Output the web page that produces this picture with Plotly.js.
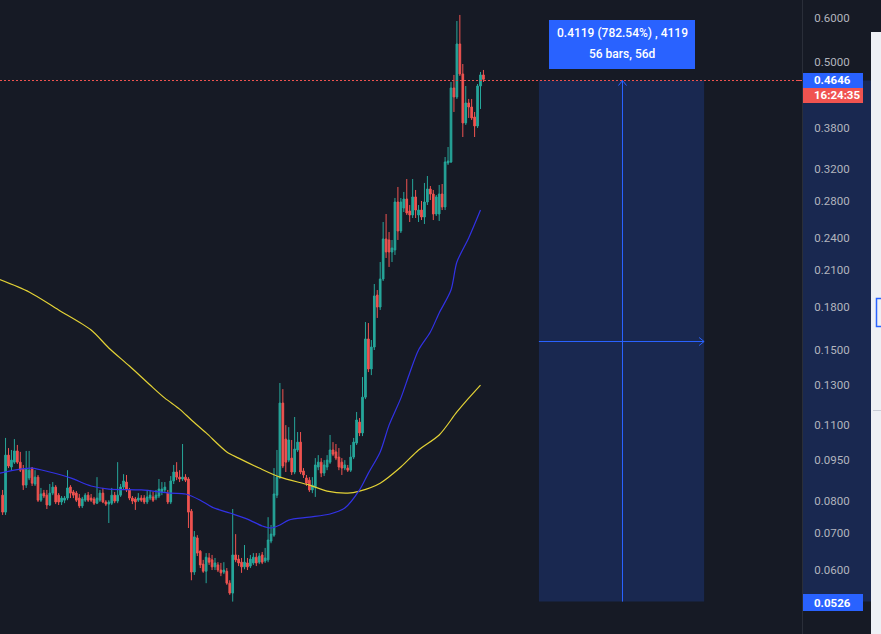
<!DOCTYPE html>
<html>
<head>
<meta charset="utf-8">
<script src="https://cdn.plot.ly/plotly-3.0.1.min.js"></script>
<style>
html,body{margin:0;padding:0;background:#161a25;overflow:hidden;}
#chart{width:881px;height:634px;}
</style>
</head>
<body>
<div id="chart"></div>
<script>
// ---- Daily OHLC values ----
const openP = [
0.0820,0.0764,0.0969,0.0922,0.0941,0.0986,0.0941,0.0914,0.0855,0.0881,
0.0918,0.0859,0.0884,0.0803,0.0827,0.0820,0.0787,0.0827,0.0848,0.0820,
0.0797,0.0803,0.0810,0.0848,0.0831,0.0827,0.0810,0.0784,0.0803,0.0820,
0.0810,0.0807,0.0793,0.0803,0.0827,0.0797,0.0790,0.0793,0.0820,0.0800,
0.0820,0.0848,0.0866,0.0838,0.0810,0.0807,0.0803,0.0810,0.0810,0.0797,
0.0810,0.0814,0.0810,0.0817,0.0831,0.0838,0.0827,0.0797,0.0870,0.0903,
0.0884,0.0877,0.0884,0.0877,0.0767,0.0595,0.0686,0.0649,0.0615,0.0597,
0.0631,0.0626,0.0608,0.0613,0.0600,0.0595,0.0597,0.0568,0.0545,
0.0639,0.0628,0.0620,0.0608,0.0618,0.0610,0.0618,0.0633,
0.0620,0.0639,0.0623,0.0626,0.0677,0.0694,0.0820,0.0884,0.1204,
0.1036,0.0949,0.0957,0.0903,0.0990,0.1023,0.0907,0.0881,0.0873,
0.0838,0.0848,0.0922,0.0941,0.0899,0.0922,0.0941,0.0990,0.0982,
0.0961,0.0941,0.0918,0.0918,0.0910,0.0961,0.1019,0.1112,0.1063,
0.1234,0.1573,0.1388,0.1521,0.1889,0.1797,0.2020,0.2387,0.2377,0.2261,
0.2280,0.2785,0.2468,0.2716,0.2820,0.2682,0.2638,0.2844,0.2638,0.2693,
0.2616,0.2785,0.2940,0.2879,0.2649,0.2649,0.2879,0.2728,0.3277,0.3291,
0.4481,0.4316,0.5383,0.4750,0.3872,0.4209,0.4139,0.3970,0.3824,0.4518,0.4731];
const highP = [
0.0838,0.1041,0.0998,0.0990,0.1036,0.1011,0.0982,0.0930,0.0986,0.0986,
0.0922,0.0910,0.0892,0.0845,0.0838,0.0838,0.0859,0.0866,0.0855,0.0827,
0.0817,0.0817,0.0910,0.0855,0.0838,0.0834,0.0824,0.0814,0.0827,0.0831,
0.0824,0.0814,0.0884,0.0838,0.0845,0.0803,0.0803,0.0845,0.0831,0.0941,
0.0859,0.0895,0.0892,0.0845,0.0817,0.0814,0.0827,0.0820,0.0820,0.0838,
0.0838,0.0831,0.0838,0.0877,0.0866,0.0866,0.0838,0.0888,0.0930,0.0941,
0.0910,0.1015,0.0895,0.0884,0.0774,0.0706,0.0694,0.0652,0.0626,0.0644,
0.0644,0.0639,0.0631,0.0620,0.0618,0.0620,0.0605,0.0575,0.0774,
0.0697,0.0639,0.0631,0.0666,0.0631,0.0639,0.0644,0.0644,
0.0644,0.0647,0.0658,0.0748,0.0724,0.0918,0.0990,0.1309,0.1276,
0.1098,0.1089,0.1032,0.1136,0.1067,0.1067,0.0918,0.0892,0.0884,
0.0884,0.0957,0.0969,0.0957,0.0949,0.0969,0.1054,0.1023,0.1015,
0.0998,0.0957,0.0949,0.0930,0.1011,0.1041,0.1160,0.1131,0.1342,
0.1688,0.1681,0.1566,0.1978,0.1929,0.2168,0.2562,0.2649,0.2457,0.2377,
0.2832,0.2965,0.2832,0.2904,0.3065,0.2750,0.3065,0.2928,0.2750,0.2797,
0.3015,0.3104,0.2977,0.2928,0.2867,0.2990,0.3002,0.3360,0.3503,0.4594,
0.4731,0.5925,0.6076,0.4952,0.4518,0.4280,0.4280,0.4054,0.4556,0.4790,0.4830];
const lowP = [
0.0755,0.0755,0.0918,0.0910,0.0934,0.0934,0.0903,0.0838,0.0845,0.0873,
0.0852,0.0852,0.0797,0.0797,0.0810,0.0774,0.0784,0.0820,0.0790,0.0787,
0.0787,0.0793,0.0803,0.0810,0.0810,0.0797,0.0777,0.0777,0.0797,0.0797,
0.0797,0.0787,0.0790,0.0797,0.0793,0.0784,0.0730,0.0787,0.0793,0.0793,
0.0814,0.0838,0.0831,0.0803,0.0790,0.0771,0.0797,0.0797,0.0790,0.0790,
0.0803,0.0797,0.0803,0.0810,0.0820,0.0827,0.0790,0.0790,0.0859,0.0873,
0.0866,0.0870,0.0866,0.0715,0.0575,0.0588,0.0636,0.0605,0.0593,0.0568,
0.0613,0.0600,0.0600,0.0595,0.0585,0.0590,0.0564,0.0541,0.0526,
0.0620,0.0610,0.0593,0.0602,0.0600,0.0605,0.0613,0.0610,
0.0615,0.0615,0.0618,0.0620,0.0671,0.0689,0.0810,0.0877,0.0918,
0.0903,0.0941,0.0892,0.0895,0.0982,0.0895,0.0881,0.0852,0.0831,
0.0827,0.0814,0.0910,0.0884,0.0888,0.0910,0.0934,0.0965,0.0949,
0.0910,0.0892,0.0910,0.0903,0.0903,0.0953,0.1011,0.1049,0.1049,
0.1224,0.1370,0.1353,0.1502,0.1717,0.1775,0.2003,0.2205,0.2124,0.2168,
0.2233,0.2377,0.2447,0.2671,0.2638,0.2562,0.2605,0.2605,0.2562,0.2583,
0.2541,0.2750,0.2808,0.2583,0.2627,0.2573,0.2693,0.2693,0.3250,0.3277,
0.4054,0.4280,0.4711,0.3652,0.3840,0.3954,0.3921,0.3652,0.3792,0.4105,0.4594];
const closeP = [
0.0764,0.0969,0.0926,0.0949,0.0986,0.0941,0.0910,0.0855,0.0914,0.0910,
0.0862,0.0884,0.0803,0.0824,0.0817,0.0787,0.0827,0.0848,0.0797,0.0797,
0.0810,0.0810,0.0845,0.0827,0.0820,0.0803,0.0784,0.0807,0.0820,0.0803,
0.0803,0.0793,0.0810,0.0827,0.0797,0.0790,0.0797,0.0820,0.0800,0.0820,
0.0848,0.0870,0.0838,0.0810,0.0800,0.0797,0.0810,0.0803,0.0797,0.0814,
0.0820,0.0803,0.0820,0.0841,0.0841,0.0848,0.0797,0.0870,0.0903,0.0884,
0.0877,0.0884,0.0873,0.0764,0.0595,0.0689,0.0644,0.0613,0.0597,0.0633,
0.0620,0.0608,0.0618,0.0600,0.0593,0.0600,0.0568,0.0545,0.0639,
0.0626,0.0618,0.0608,0.0620,0.0608,0.0628,0.0633,0.0618,
0.0636,0.0620,0.0631,0.0680,0.0697,0.0824,0.0884,0.1204,0.0926,
0.0941,0.1032,0.0903,0.0994,0.1023,0.0903,0.0892,0.0862,0.0838,
0.0855,0.0930,0.0941,0.0899,0.0930,0.0949,0.0990,0.0973,0.0957,
0.0922,0.0918,0.0930,0.0910,0.0961,0.1023,0.1122,0.1063,0.1234,
0.1573,0.1388,0.1521,0.1882,0.1797,0.2020,0.2387,0.2261,0.2261,0.2299,
0.2785,0.2468,0.2785,0.2820,0.2660,0.2638,0.2844,0.2693,0.2693,0.2616,
0.2785,0.2940,0.2879,0.2649,0.2844,0.2879,0.2728,0.3291,0.3304,0.4481,
0.4316,0.5383,0.4750,0.3872,0.4209,0.4139,0.3954,0.3824,0.4518,0.4731,0.4646];

// ---- Moving averages (bar index, value) ----
const maSlowBar = [-1,9,19,30,36,43,50,55,60,64,69,76,80,87,94,104,110,117,121,128,135,141,148,154,158,162];
const maSlowVal = [0.2015,0.1913,0.1775,0.1633,0.1515,0.1405,0.1298,0.1229,0.1174,0.1122,0.1063,0.0982,0.0957,0.0918,0.0884,0.0855,0.0834,0.0827,0.0834,0.0862,0.0922,0.0990,0.1054,0.1160,0.1229,0.1298];
const maFastBar = [-1,6,10,16,23,30,36,47,57,62,67,71,77,83,88,91,94,97,104,111,116,121,124,128,131,135,138,141,145,148,152,154,158,162];
const maFastVal = [0.0899,0.0914,0.0918,0.0903,0.0881,0.0852,0.0841,0.0838,0.0827,0.0824,0.0803,0.0780,0.0761,0.0742,0.0721,0.0715,0.0724,0.0739,0.0748,0.0758,0.0777,0.0838,0.0899,0.0982,0.1098,0.1229,0.1365,0.1502,0.1619,0.1753,0.1929,0.2168,0.2397,0.2693];

// ---- Price axis ticks ----
const tickVals = [0.6,0.5,0.38,0.32,0.28,0.24,0.21,0.18,0.15,0.13,0.11,0.095,0.08,0.07,0.06];
const tickText = ['0.6000','0.5000','0.3800','0.3200','0.2800','0.2400','0.2100','0.1800','0.1500','0.1300','0.1100','0.0950','0.0800','0.0700','0.0600'];

// ---- Measurement tool ----
const lastPrice = 0.4646;
const rangeLow = 0.0526;
const toolStartBar = 181.8, toolEndBar = 237.8;
const toolLine1 = '0.4119 (782.54%) , 4119';
const toolLine2 = '56 bars, 56d';
const countdown = '16:24:35';

const bars = openP.map((_, i) => i);

// layout geometry
const W = 802, H = 634;
const X0 = -0.88, X1 = 270.98;
const Y0 = -1.3377, Y1 = -0.1893;
const yPaper = v => (Math.log10(v) - Y0) / (Y1 - Y0);
const xPaper = b => (b - X0) / (X1 - X0);
const pxX = px => px / W;
const pxY = py => 1 - py / H;
const snapX = b => pxX(Math.round(xPaper(b) * W) + 0.5);
const snapY = v => pxY(Math.ceil((1 - yPaper(v)) * H) + 0.5);

const BLUE = '#2962ff', UP = '#26a69a', DN = '#ef5350';
const FONT = 'Roboto, "Liberation Sans", sans-serif';

const traces = [
  {
    type: 'scatter', mode: 'lines', x: maSlowBar, y: maSlowVal,
    line: {color: '#e3d236', width: 1.2, shape: 'spline', smoothing: 0.8},
    hoverinfo: 'skip', showlegend: false
  },
  {
    type: 'scatter', mode: 'lines', x: maFastBar, y: maFastVal,
    line: {color: '#3232e6', width: 1.2, shape: 'spline', smoothing: 0.8},
    hoverinfo: 'skip', showlegend: false
  },
  {
    type: 'candlestick', x: bars, open: openP, high: highP, low: lowP, close: closeP,
    increasing: {line: {color: UP, width: 1}, fillcolor: UP},
    decreasing: {line: {color: DN, width: 1}, fillcolor: DN},
    whiskerwidth: 0, hoverinfo: 'skip', showlegend: false
  }
];

const tMid = (toolStartBar + toolEndBar) / 2;
const midPrice = Math.sqrt(rangeLow * lastPrice);
const shapes = [
  {type: 'rect', layer: 'below', xref: 'paper', yref: 'paper',
   x0: xPaper(toolStartBar), x1: xPaper(toolEndBar), y0: yPaper(rangeLow), y1: snapY(lastPrice),
   fillcolor: 'rgba(41,98,255,0.2)', line: {width: 0}},
  {type: 'rect', layer: 'below', xref: 'paper', yref: 'paper',
   x0: pxX(803), x1: pxX(871), y0: yPaper(rangeLow), y1: snapY(lastPrice),
   fillcolor: 'rgba(41,98,255,0.2)', line: {width: 0}},
  // right side toolbar strip
  {type: 'rect', layer: 'below', xref: 'paper', yref: 'paper',
   x0: pxX(871), x1: pxX(882), y0: pxY(634), y1: pxY(32),
   fillcolor: '#eef0f5', line: {width: 0}},
  {type: 'line', xref: 'paper', yref: 'paper', x0: pxX(873), x1: pxX(882),
   y0: pxY(410.5), y1: pxY(410.5), line: {color: '#c9ccd6', width: 1}},
  {type: 'path', xref: 'paper', yref: 'paper',
   path: `M ${pxX(882)} ${pxY(298.5)} L ${pxX(876.5)} ${pxY(298.5)} L ${pxX(876.5)} ${pxY(326.5)} L ${pxX(882)} ${pxY(326.5)}`,
   line: {color: BLUE, width: 1.5}},
  // tool cross lines
  {type: 'line', xref: 'paper', yref: 'paper', x0: snapX(tMid), x1: snapX(tMid),
   y0: yPaper(rangeLow), y1: snapY(lastPrice), line: {color: BLUE, width: 1}},
  {type: 'line', xref: 'paper', yref: 'paper', x0: xPaper(toolStartBar), x1: xPaper(toolEndBar),
   y0: snapY(midPrice), y1: snapY(midPrice), line: {color: BLUE, width: 1}},
  // last price line
  {type: 'line', xref: 'paper', yref: 'paper', x0: 0, x1: 1,
   y0: snapY(lastPrice), y1: snapY(lastPrice), line: {color: '#ef5350', width: 1, dash: '2px,2px'}},
  {type: 'line', xref: 'paper', yref: 'paper', x0: pxX(797), x1: pxX(802),
   y0: snapY(lastPrice), y1: snapY(lastPrice), line: {color: '#ef5350', width: 1}},
  // tool label box
  {type: 'rect', xref: 'paper', yref: 'paper', x0: pxX(549), x1: pxX(695), y0: pxY(69), y1: pxY(20),
   fillcolor: BLUE, line: {width: 0}},
  // price scale labels
  {type: 'rect', xref: 'paper', yref: 'paper', x0: pxX(803), x1: pxX(863), y0: pxY(88), y1: pxY(73),
   fillcolor: BLUE, line: {width: 0}},
  {type: 'rect', xref: 'paper', yref: 'paper', x0: pxX(803), x1: pxX(863), y0: pxY(103), y1: pxY(88),
   fillcolor: '#f05350', line: {width: 0}},
  {type: 'rect', xref: 'paper', yref: 'paper', x0: pxX(803), x1: pxX(863), y0: pxY(611), y1: pxY(594),
   fillcolor: BLUE, line: {width: 0}}
];
(function(){
  const cx = snapX(tMid) * W, ty = (1 - snapY(lastPrice)) * H;
  shapes.push({type: 'path', xref: 'paper', yref: 'paper',
    path: `M ${pxX(cx-4)} ${pxY(ty+5)} L ${pxX(cx)} ${pxY(ty)} L ${pxX(cx+4)} ${pxY(ty+5)}`,
    line: {color: BLUE, width: 1}});
  const rx = xPaper(toolEndBar) * W, my = (1 - snapY(midPrice)) * H;
  shapes.push({type: 'path', xref: 'paper', yref: 'paper',
    path: `M ${pxX(rx-5)} ${pxY(my-4)} L ${pxX(rx)} ${pxY(my)} L ${pxX(rx-5)} ${pxY(my+4)}`,
    line: {color: BLUE, width: 1}});
})();

const ann = (text, px, py, opts) => Object.assign({
  text, xref: 'paper', yref: 'paper', x: pxX(px), y: pxY(py),
  showarrow: false, font: {family: FONT, size: 12, color: '#ffffff'}
}, opts || {});
const boxFont = {family: FONT, size: 11.5, color: '#ffffff', weight: 'bold'};
const toolFont = {family: FONT, size: 12, color: '#ffffff', weight: 500};

const annotations = [
  ann(toolLine1, 622, 33, {xanchor: 'center', yanchor: 'middle', font: toolFont}),
  ann(toolLine2, 622, 54, {xanchor: 'center', yanchor: 'middle', font: toolFont}),
  ann(lastPrice.toFixed(4), 812, 80.5, {xanchor: 'left', yanchor: 'middle', font: boxFont}),
  ann(countdown, 812, 95.5, {xanchor: 'left', yanchor: 'middle', font: boxFont}),
  ann(rangeLow.toFixed(4), 812, 602.5, {xanchor: 'left', yanchor: 'middle', font: boxFont})
];

const layout = {
  width: 881, height: 634,
  margin: {l: 0, r: 79, t: 0, b: 0, pad: 0},
  paper_bgcolor: '#161a25', plot_bgcolor: '#161a25',
  showlegend: false, hovermode: false, dragmode: false,
  boxgap: 0.25, boxgroupgap: 0.25,
  font: {family: FONT, color: '#b2b5be'},
  xaxis: {range: [X0, X1], showgrid: false, zeroline: false, showticklabels: false,
          ticks: '', showline: false, rangeslider: {visible: false}, fixedrange: true},
  yaxis: {type: 'log', side: 'right', range: [Y0, Y1], showgrid: false, zeroline: false,
          tickmode: 'array', tickvals: tickVals, ticktext: tickText, ticks: '',
          ticklabelstandoff: 9, showline: true, linecolor: '#2a2e39', linewidth: 1,
          tickfont: {family: FONT, size: 11.5, color: '#b2b5be'}, fixedrange: true},
  shapes, annotations
};

Plotly.newPlot('chart', traces, layout, {displayModeBar: false, staticPlot: true});
</script>
</body>
</html>
